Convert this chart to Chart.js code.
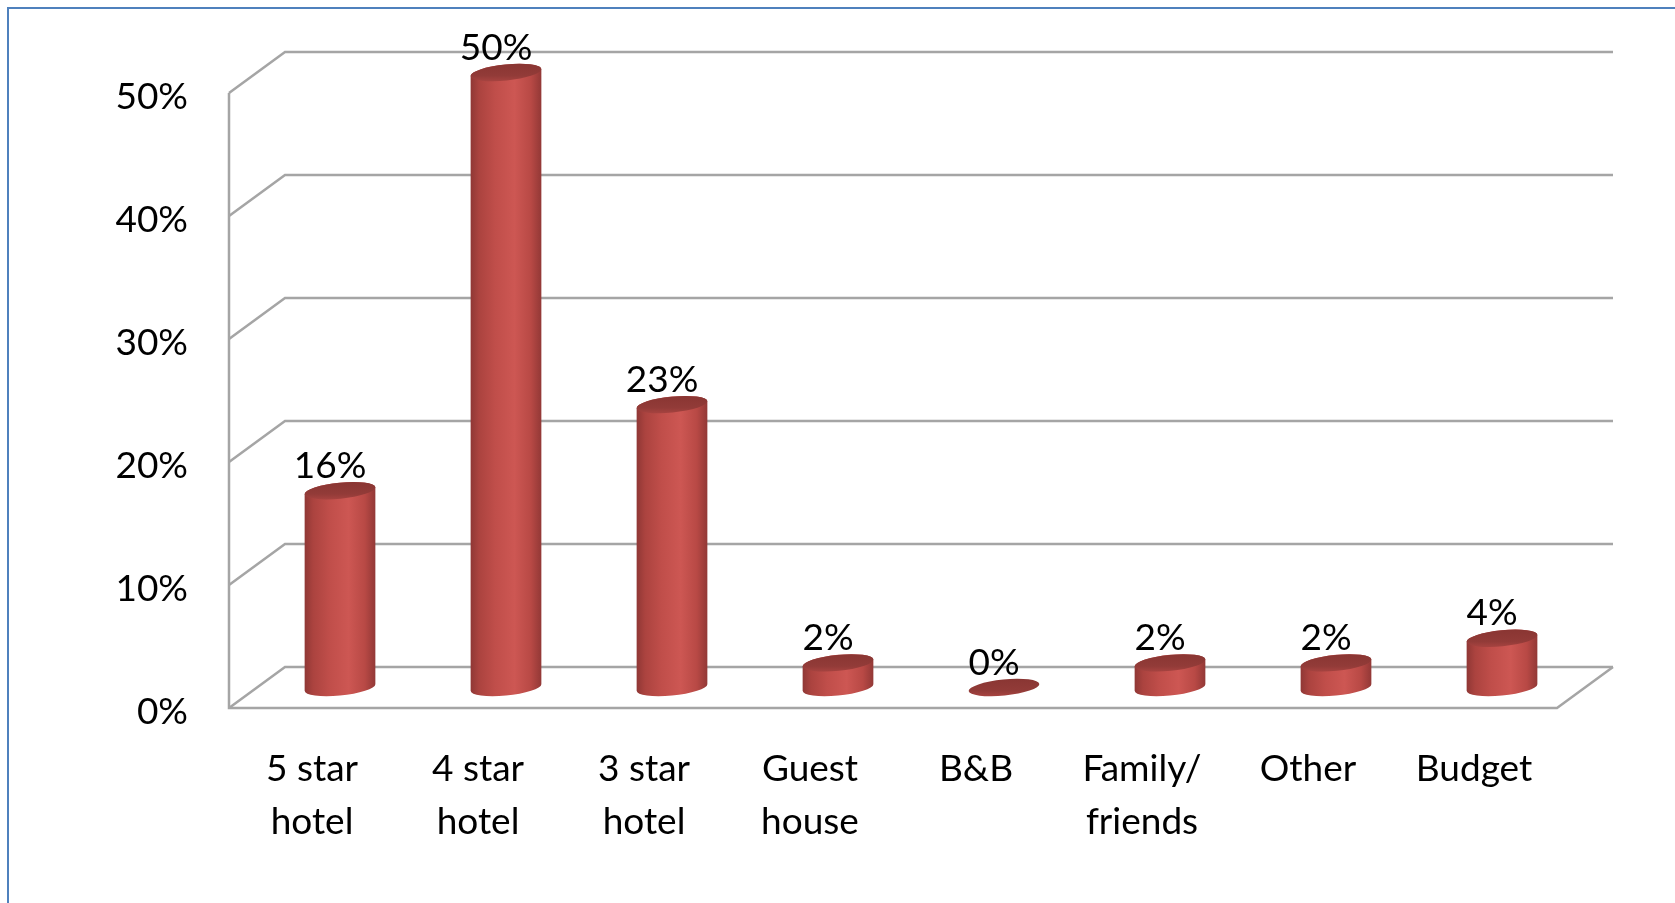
<!DOCTYPE html>
<html>
<head>
<meta charset="utf-8">
<title>Accommodation type</title>
<script src="https://cdn.jsdelivr.net/npm/chart.js@4.4.1/dist/chart.umd.min.js"></script>
<style>
  html, body { margin: 0; padding: 0; background: #ffffff; }
  #wrap { width: 1675px; height: 903px; position: relative; }
</style>
</head>
<body>
<div id="wrap"><canvas id="chart" width="1675" height="903"></canvas></div>
<script>
// Accommodation categories (multi-line axis labels) and their shares in percent
const categories = [['5 star', 'hotel'], ['4 star', 'hotel'], ['3 star', 'hotel'], ['Guest', 'house'], 'B&B', ['Family/', 'friends'], 'Other', 'Budget'];
const shares = [16, 50, 23, 2, 0, 2, 2, 4];
const percentTicks = [0, 10, 20, 30, 40, 50];

const FONT_FAMILY = 'Lato';
const FONT_SIZE = 37;
const DEPTH_X = 56;      // horizontal offset of the back wall
const DEPTH_Y = -41;     // vertical offset of the back wall
const GRID_COLOR = '#a5a5a5';
const TILT = -0.1;       // rotation of the cylinder end caps
const CAP_RY = 8;        // vertical radius of the end caps

// Blue frame around the chart
const framePlugin = {
  id: 'frame',
  beforeDraw(chart) {
    const ctx = chart.ctx;
    ctx.save();
    ctx.fillStyle = '#ffffff';
    ctx.fillRect(0, 0, chart.width, chart.height);
    ctx.strokeStyle = '#4f81bd';
    ctx.lineWidth = 2;
    ctx.strokeRect(8, 8, chart.width + 20, chart.height + 20);
    ctx.restore();
  }
};

// Side wall, back wall gridlines and floor of the 3-D plot area
const wallsPlugin = {
  id: 'walls',
  beforeDatasetsDraw(chart) {
    const { ctx, chartArea: a, scales: { y } } = chart;
    ctx.save();
    ctx.strokeStyle = GRID_COLOR;
    ctx.lineWidth = 2.5;
    ctx.lineJoin = 'miter';
    y.ticks.forEach(t => {
      const py = y.getPixelForValue(t.value);
      ctx.beginPath();
      ctx.moveTo(a.left, py);
      ctx.lineTo(a.left + DEPTH_X, py + DEPTH_Y);
      ctx.lineTo(a.right + DEPTH_X, py + DEPTH_Y);
      ctx.stroke();
    });
    const y0 = y.getPixelForValue(0);
    const yMax = y.getPixelForValue(y.max);
    ctx.beginPath();
    ctx.moveTo(a.left, yMax);
    ctx.lineTo(a.left, y0);
    ctx.lineTo(a.right, y0);
    ctx.lineTo(a.right + DEPTH_X, y0 + DEPTH_Y);
    ctx.stroke();
    ctx.restore();
  }
};

function drawCylinder(ctx, cx, yBase, yTop, rx, ry, rot) {
  // parameter of the leftmost / rightmost points of a rotated ellipse
  const t0 = Math.atan2(-ry * Math.sin(rot), rx * Math.cos(rot));
  if (yBase - yTop > 0.5) {
    const g = ctx.createLinearGradient(cx - rx, 0, cx + rx, 0);
    g.addColorStop(0.00, '#8f3735');
    g.addColorStop(0.12, '#ab433f');
    g.addColorStop(0.35, '#c04e4a');
    g.addColorStop(0.62, '#cd5753');
    g.addColorStop(0.85, '#b84945');
    g.addColorStop(1.00, '#923836');
    ctx.fillStyle = g;
    ctx.beginPath();
    ctx.ellipse(cx, yBase, rx, ry, rot, t0, t0 + Math.PI);
    ctx.ellipse(cx, yTop, rx, ry, rot, t0 + Math.PI, t0 + 2 * Math.PI);
    ctx.closePath();
    ctx.fill();
  }
  const tg = ctx.createLinearGradient(cx, yTop - ry, cx, yTop + ry);
  tg.addColorStop(0, '#8a3633');
  tg.addColorStop(0.7, '#923b38');
  tg.addColorStop(1, '#a4423f');
  ctx.fillStyle = tg;
  ctx.beginPath();
  ctx.ellipse(cx, yTop, rx, ry, rot, 0, 2 * Math.PI);
  ctx.fill();
}

// Cylinders and value labels, placed from the bar elements and the y scale
const cylinderPlugin = {
  id: 'cylinders',
  afterDatasetsDraw(chart) {
    const { ctx, scales: { y } } = chart;
    const meta = chart.getDatasetMeta(0);
    const values = chart.data.datasets[0].data;
    ctx.save();
    meta.data.forEach((bar, i) => {
      const cx = bar.x + DEPTH_X / 2;
      const yBase = y.getPixelForValue(0) + DEPTH_Y / 2;
      const yTop = y.getPixelForValue(values[i]) + DEPTH_Y / 2;
      drawCylinder(ctx, cx, yBase, yTop, bar.width / 2, CAP_RY, TILT);
    });
    ctx.fillStyle = '#000000';
    ctx.font = FONT_SIZE + 'px ' + FONT_FAMILY;
    ctx.textAlign = 'center';
    ctx.textBaseline = 'alphabetic';
    meta.data.forEach((bar, i) => {
      const cx = bar.x + DEPTH_X / 2;
      const yTop = y.getPixelForValue(values[i]) + DEPTH_Y / 2;
      ctx.fillText(values[i] + '%', cx - 10, yTop - 13);
    });
    ctx.restore();
  }
};

new Chart(document.getElementById('chart'), {
  type: 'bar',
  data: {
    labels: categories,
    datasets: [{
      data: shares,
      backgroundColor: 'rgba(0,0,0,0)',
      borderWidth: 0,
      barPercentage: 0.428,
      categoryPercentage: 1
    }]
  },
  options: {
    responsive: false,
    animation: false,
    layout: { padding: { top: 93, right: 118, bottom: 0, left: 0 } },
    plugins: { legend: { display: false }, tooltip: { enabled: false } },
    scales: {
      x: {
        grid: { display: false, drawTicks: false },
        border: { display: false },
        ticks: {
          color: '#000000',
          padding: 35,
          maxRotation: 0,
          autoSkip: false,
          font: { family: FONT_FAMILY, size: FONT_SIZE, lineHeight: '53px' }
        },
        afterFit(scale) { scale.height = 195; }
      },
      y: {
        min: 0,
        max: 50,
        grid: { display: false, drawTicks: false },
        border: { display: false },
        afterBuildTicks(scale) { scale.ticks = percentTicks.map(v => ({ value: v })); },
        ticks: {
          color: '#000000',
          padding: 41,
          labelOffset: 4,
          font: { family: FONT_FAMILY, size: FONT_SIZE },
          callback: v => v + '%'
        },
        afterFit(scale) { scale.width = 229; }
      }
    }
  },
  plugins: [framePlugin, wallsPlugin, cylinderPlugin]
});
</script>
</body>
</html>
